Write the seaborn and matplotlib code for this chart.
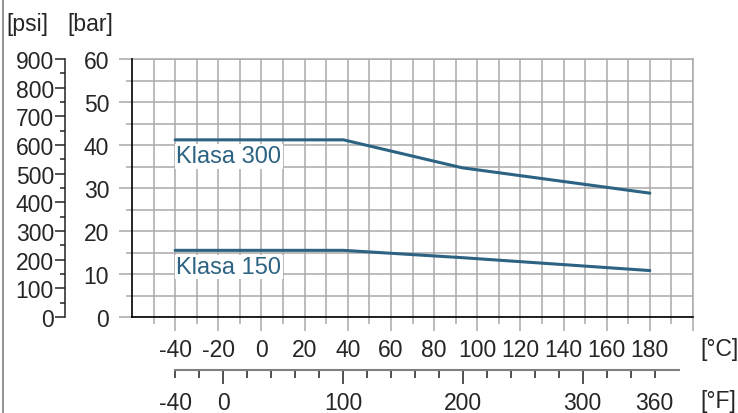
import matplotlib
matplotlib.use("Agg")
import matplotlib.pyplot as plt
import numpy as np
import pandas as pd
import seaborn as sns

# dane
temp_c = [-40, 38, 93, 180]
klasa_300 = [41.2, 41.2, 34.7, 28.8]
klasa_150 = [15.5, 15.5, 13.8, 10.8]
klasy = ["Klasa 300", "Klasa 150"]

c_ticks = [-40, -20, 0, 20, 40, 60, 80, 100, 120, 140, 160, 180, 200]
c_labels = ["-40", "-20", "0", "20", "40", "60", "80", "100", "120", "140", "160", "180", ""]
bar_ticks = [0, 10, 20, 30, 40, 50, 60]
psi_ticks = [0, 100, 200, 300, 400, 500, 600, 700, 800, 900]
f_ticks = [-40, 0, 100, 200, 300, 360]

df = pd.DataFrame({
    "temp": temp_c * 2,
    "bar": klasa_300 + klasa_150,
    "klasa": [klasy[0]] * len(temp_c) + [klasy[1]] * len(temp_c),
})

sns.set_style("white")
plt.rcParams["font.family"] = ["Liberation Sans", "DejaVu Sans"]
FS = 16.5
line_color = "#2c6383"
grid_color = "#a9a9a9"

W, H = 738, 414
fig = plt.figure(figsize=(W / 100, H / 100), dpi=100)

left, right, top, bottom = 132, 693, 60, 318
ax = fig.add_axes([left / W, 1 - bottom / H, (right - left) / W, (bottom - top) / H])

sns.lineplot(data=df, x="temp", y="bar", hue="klasa", palette=[line_color, line_color],
             legend=False, linewidth=2.2, ax=ax, zorder=3)
ax.set_xlim(-60, 200)
ax.set_ylim(0, 60)
ax.set_xlabel("")
ax.set_ylabel("")

ax.set_xticks(c_ticks)
ax.set_xticklabels(c_labels, fontsize=FS)
ax.set_xticks(np.arange(-50, 200, 20), minor=True)
ax.set_yticks(bar_ticks)
ax.set_yticklabels([str(v) for v in bar_ticks], fontsize=FS)
ax.set_yticks(np.arange(5, 60, 10), minor=True)
ax.grid(True, which="both", color=grid_color, linewidth=1.1)
ax.set_axisbelow(True)
ax.tick_params(bottom=True, left=True, which="both")
ax.tick_params(axis="x", which="major", length=10, width=1.1, color=grid_color, pad=5)
ax.tick_params(axis="x", which="minor", length=5, width=1.1, color=grid_color)
ax.tick_params(axis="y", which="major", length=9.4, width=1.1, color=grid_color, pad=7)
ax.tick_params(axis="y", which="minor", length=4, width=1.1, color=grid_color)
for s in ["left", "bottom"]:
    ax.spines[s].set_color("black")
    ax.spines[s].set_linewidth(1.2)
    ax.spines[s].set_zorder(4)
for s in ["top", "right"]:
    ax.spines[s].set_color(grid_color)
    ax.spines[s].set_linewidth(1.1)

box = dict(facecolor="white", edgecolor="none", pad=1)
ax.text(-39.5, klasa_300[0] - 1.3, klasy[0], fontsize=17, color=line_color,
        va="top", ha="left", bbox=box, zorder=2.5)
ax.text(-39.5, klasa_150[0] - 1.3, klasy[1], fontsize=17, color=line_color,
        va="top", ha="left", bbox=box, zorder=2.5)

# os psi
ax_psi = fig.add_axes([65 / W, 1 - bottom / H, 0.0001, (bottom - top) / H])
ax_psi.set_facecolor("none")
ax_psi.set_ylim(0, 900)
ax_psi.set_xticks([])
ax_psi.set_yticks(psi_ticks)
ax_psi.set_yticklabels([str(v) for v in psi_ticks], fontsize=FS)
ax_psi.set_yticks(np.arange(50, 900, 100), minor=True)
ax_psi.tick_params(left=True, which="both")
ax_psi.tick_params(axis="y", which="major", length=7, width=1.1, color="#222222", pad=1)
ax_psi.tick_params(axis="y", which="minor", length=3.6, width=1.1, color="#222222")
for s in ["top", "right", "bottom"]:
    ax_psi.spines[s].set_visible(False)
ax_psi.spines["left"].set_color("#222222")
ax_psi.spines["left"].set_linewidth(1.1)

# os Fahrenheit
f_y = 371
ax_f = fig.add_axes([left / W, 1 - f_y / H, (right - left) / W, 0.0001])
ax_f.set_facecolor("none")
ax_f.set_xlim(-60 * 9 / 5 + 32, 200 * 9 / 5 + 32)
ax_f.set_yticks([])
ax_f.set_xticks(f_ticks)
ax_f.set_xticklabels([str(v) for v in f_ticks], fontsize=FS)
ax_f.set_xticks(np.arange(-20, 361, 20), minor=True)
ax_f.tick_params(bottom=True, which="both")
ax_f.tick_params(axis="x", which="major", length=10, width=1.1, color="#222222", pad=5)
ax_f.tick_params(axis="x", which="minor", length=5.5, width=1.1, color="#222222")
for t, v in zip(ax_f.xaxis.get_major_ticks(), f_ticks):
    if v in (-40, 360):
        t.tick1line.set_markersize(5.5)
for s in ["top", "right", "left"]:
    ax_f.spines[s].set_visible(False)
ax_f.spines["bottom"].set_bounds(-40, 380)
ax_f.spines["bottom"].set_color("#808080")
ax_f.spines["bottom"].set_linewidth(1.5)

# jednostki
fig.text(700 / W, 1 - 350 / H, "[°C]", fontsize=FS, va="center", ha="left")
fig.text(700 / W, 1 - 402 / H, "[°F]", fontsize=FS, va="center", ha="left")
fig.text(6 / W, 1 - 25 / H, "[psi]", fontsize=FS, va="center", ha="left")
fig.text(67 / W, 1 - 25 / H, "[bar]", fontsize=FS, va="center", ha="left")

# ramka z lewej
fig.add_artist(plt.Line2D([3 / W, 3 / W], [0, 1], color="#808080", linewidth=1.2))

fig.savefig("out.png", dpi=100)
